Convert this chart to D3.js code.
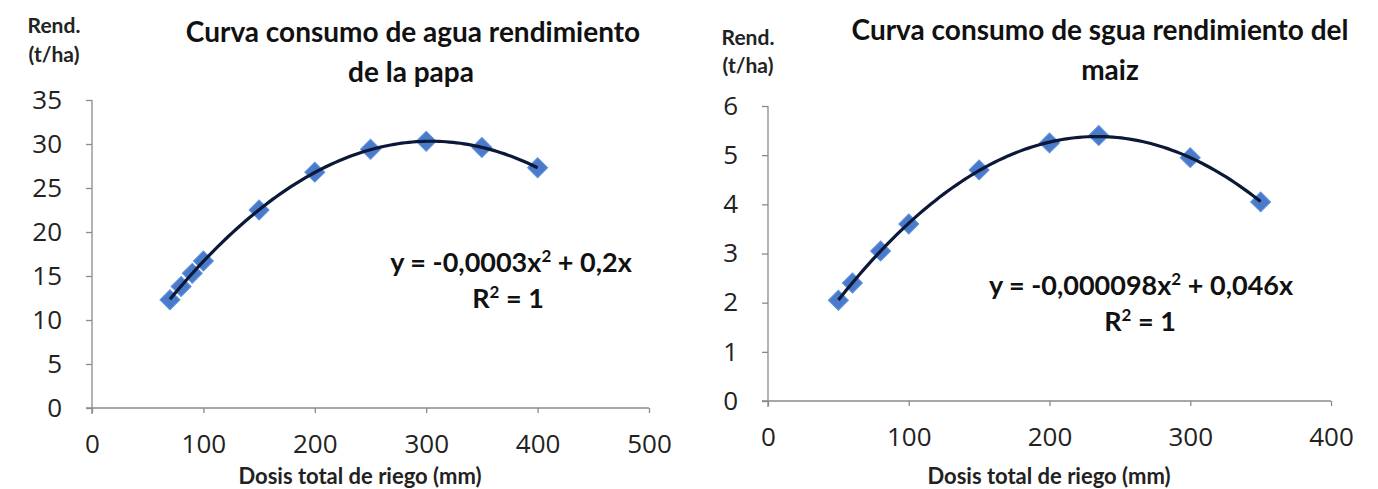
<!DOCTYPE html>
<html><head><meta charset="utf-8">
<script src="https://cdn.jsdelivr.net/npm/d3@7"></script>
<style>
html,body{margin:0;padding:0;background:#fff;}
svg{display:block;}
text{font-family:"Lato","Open Sans",sans-serif;}
</style></head>
<body>
<svg id="c" width="1378" height="489"></svg>
<script>
// Potato chart data
const papaDosis = [70, 80, 90, 100, 150, 200, 250, 300, 350, 400];
const papaRend  = [12.3, 13.8, 15.3, 16.7, 22.5, 26.8, 29.4, 30.3, 29.6, 27.3];
const papaXTicks = [0, 100, 200, 300, 400, 500];
const papaYTicks = [0, 5, 10, 15, 20, 25, 30, 35];
const papaTitle = ["Curva consumo de agua rendimiento", "de la papa"];
const papaEq = "y = -0,0003x";
const papaEq2 = " + 0,2x";

// Maize chart data
const maizDosis = [50, 60, 80, 100, 150, 200, 235, 300, 350];
const maizRend  = [2.05, 2.4, 3.05, 3.6, 4.7, 5.25, 5.4, 4.95, 4.05];
const maizXTicks = [0, 100, 200, 300, 400];
const maizYTicks = [0, 1, 2, 3, 4, 5, 6];
const maizTitle = ["Curva consumo de sgua rendimiento del", "maiz"];
const maizEq = "y = -0,000098x";
const maizEq2 = " + 0,046x";

const yLabel = ["Rend.", "(t/ha)"];
const xLabel = "Dosis total de riego (mm)";

const svg = d3.select("#c");

// least-squares fit y = a x^2 + b x (no intercept)
function fitQuad(xs, ys){
  let s4=0,s3=0,s2=0,sy2=0,sy1=0;
  xs.forEach((x,i)=>{const y=ys[i]; s4+=x**4; s3+=x**3; s2+=x*x; sy2+=y*x*x; sy1+=y*x;});
  const det = s4*s2 - s3*s3;
  const a = (sy2*s2 - s3*sy1)/det;
  const b = (s4*sy1 - s3*sy2)/det;
  return x => a*x*x + b*x;
}

function drawChart(o){
  const g = svg.append("g");
  const x = d3.scaleLinear().domain(o.xDomain).range([o.x0, o.x1]);
  const y = d3.scaleLinear().domain(o.yDomain).range([o.y0, o.y1]);
  const axisCol = "#8a8a8a";

  const xa = g.append("g").attr("transform", `translate(0,${o.y0})`)
    .call(d3.axisBottom(x).tickValues(o.xTicks).tickSize(5).tickPadding(22).tickFormat(d3.format("d")));
  const ya = g.append("g").attr("transform", `translate(${o.x0},0)`)
    .call(d3.axisLeft(y).tickValues(o.yTicks).tickSize(6).tickPadding(24).tickFormat(d3.format("d")));
  [xa, ya].forEach(a=>{
    a.select(".domain").attr("stroke", axisCol).attr("stroke-width", 1.3);
    a.selectAll(".tick line").attr("stroke", axisCol).attr("stroke-width", 1.3);
    a.selectAll(".tick text").attr("fill", "#222").style("font-size", "26px")
      .style("font-family", "'Open Sans', sans-serif").attr("font-weight", 400);
  });
  xa.select(".domain").attr("d", `M${o.x0-6},0H${o.x1}`);
  ya.select(".domain").attr("d", `M0,${o.y1}V${o.y0+6}`);

  // markers (diamonds)
  const pts = o.xs.map((d,i)=>({x:d, y:o.ys[i]}));
  const sym = d3.symbol().type(d3.symbolSquare).size(200);
  g.append("g").selectAll("path").data(pts).join("path")
    .attr("d", sym)
    .attr("transform", d=>`translate(${x(d.x)},${y(d.y)}) rotate(45)`)
    .attr("fill", "#4a7bcb").attr("stroke", "#6190dc").attr("stroke-width", 1);

  // trend line
  const f = fitQuad(o.xs, o.ys);
  const ext = d3.extent(o.xs);
  const samples = d3.range(0, 101).map(i => ext[0] + (ext[1]-ext[0])*i/100);
  g.append("path").datum(samples)
    .attr("d", d3.line().x(d=>x(d)).y(d=>y(f(d))))
    .attr("fill", "none").attr("stroke", "#0b1838").attr("stroke-width", 3.2);

  // titles
  o.title.forEach((t,i)=>{
    g.append("text").attr("x", o.titleX[i]).attr("y", o.titleY[i])
      .attr("text-anchor", "middle").attr("font-weight", 700)
      .style("font-size", "28px").attr("fill", "#111").text(t);
  });
  yLabel.forEach((t,i)=>{
    g.append("text").attr("x", o.yLabX).attr("y", o.yLabY[i])
      .attr("text-anchor", "middle").attr("font-weight", 700)
      .style("font-size", "21px").attr("fill", "#222").text(t);
  });
  g.append("text").attr("x", o.xLabX).attr("y", 484)
    .attr("text-anchor", "middle").attr("font-weight", 700)
    .style("font-size", "22px").attr("fill", "#222").text(xLabel);

  // equation
  const eq = g.append("text").attr("x", o.eqX).attr("y", o.eqY)
    .attr("text-anchor", "middle").attr("font-weight", 700)
    .style("font-size", "27px").attr("fill", "#111");
  eq.append("tspan").text(o.eq);
  eq.append("tspan").attr("dy", -10).style("font-size", "17px").text("2");
  eq.append("tspan").attr("dy", 10).text(o.eq2);
  const r = g.append("text").attr("x", o.rX).attr("y", o.eqY + 36)
    .attr("text-anchor", "middle").attr("font-weight", 700)
    .style("font-size", "27px").attr("fill", "#111");
  r.append("tspan").text("R");
  r.append("tspan").attr("dy", -10).style("font-size", "17px").text("2");
  r.append("tspan").attr("dy", 10).text(" = 1");
}

drawChart({
  xDomain:[0,500], yDomain:[0,35], x0:92, x1:649, y0:408, y1:100,
  xTicks:papaXTicks, yTicks:papaYTicks, xs:papaDosis, ys:papaRend,
  title:papaTitle, titleX:[413, 411], titleY:[42, 82],
  yLabX:54, yLabY:[33, 62], xLabX:360,
  eq:papaEq, eq2:papaEq2, eqX:511, eqY:272, rX:508
});
drawChart({
  xDomain:[0,400], yDomain:[0,6], x0:768, x1:1331, y0:401, y1:106,
  xTicks:maizXTicks, yTicks:maizYTicks, xs:maizDosis, ys:maizRend,
  title:maizTitle, titleX:[1100, 1110], titleY:[40, 80],
  yLabX:748, yLabY:[45, 73], xLabX:1049,
  eq:maizEq, eq2:maizEq2, eqX:1141, eqY:295, rX:1140
});
</script>
</body></html>
